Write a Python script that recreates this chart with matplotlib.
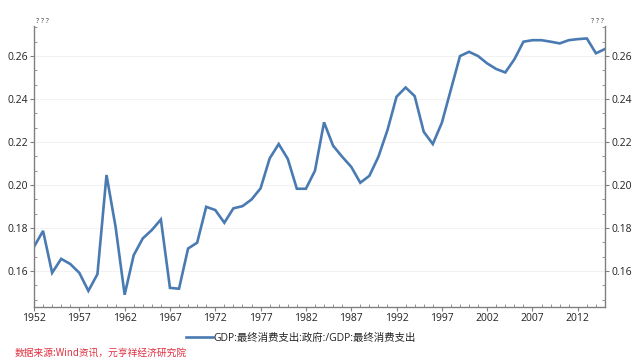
import matplotlib
matplotlib.use("Agg")
import matplotlib.pyplot as plt
from matplotlib.ticker import MultipleLocator, AutoMinorLocator, FuncFormatter, FixedLocator
import numpy as np

plt.rcParams['font.family'] = ['Open Sans', 'Noto Sans CJK SC', 'DejaVu Sans']

years = list(range(1952, 2016))
ratio = [0.1713, 0.1787, 0.1592, 0.1657, 0.1633, 0.1592, 0.1508, 0.1586, 0.2047, 0.1806,
         0.1490, 0.1674, 0.1752, 0.1791, 0.1840, 0.1522, 0.1518, 0.1705, 0.1732, 0.1899,
         0.1884, 0.1825, 0.1892, 0.1902, 0.1933, 0.1985, 0.2124, 0.2191, 0.2122, 0.1983,
         0.1983, 0.2067, 0.2292, 0.2183, 0.2132, 0.2085, 0.2011, 0.2043, 0.2132, 0.2256,
         0.2411, 0.2454, 0.2414, 0.2248, 0.2191, 0.2290, 0.2445, 0.2600, 0.2620, 0.2600,
         0.2566, 0.2540, 0.2524, 0.2585, 0.2667, 0.2674, 0.2674, 0.2667, 0.2659, 0.2674,
         0.2679, 0.2682, 0.2613, 0.2633]
x_ticks = list(range(1952, 2016, 5))
series_name = "GDP:最终消费支出:政府:/GDP:最终消费支出"
source_text = "数据来源:Wind资讯，元亨祥经济研究院"
unit_text = "? ? ?"

fig = plt.figure(figsize=(6.4, 3.61), dpi=100)
ax = fig.add_axes([34/640, 1-307/361, (605-34)/640, (307-26)/361])

line_color = '#4a7ab2'
ax.plot(years, ratio, color=line_color, lw=1.9, label=series_name, solid_joinstyle='miter')

ax.set_xlim(1952, 2015)
ax.set_ylim(0.1433, 0.274)

ax.xaxis.set_major_locator(FixedLocator(x_ticks))
ax.xaxis.set_minor_locator(MultipleLocator(1))
ax.yaxis.set_major_locator(MultipleLocator(0.02))
ax.yaxis.set_minor_locator(AutoMinorLocator(3))
ax.yaxis.set_major_formatter(FuncFormatter(lambda v, p: f"{v:.2f}"))

spine_c = '#808080'
for s in ['left', 'right', 'bottom']:
    ax.spines[s].set_color(spine_c)
    ax.spines[s].set_linewidth(1.0)
ax.spines['top'].set_visible(False)

ax.tick_params(axis='both', which='major', direction='out', length=3, color=spine_c,
               labelsize=7.5, labelcolor='#222222', pad=1.5)
ax.tick_params(axis='both', which='minor', direction='in', length=2.5, color=spine_c)
ax.tick_params(axis='y', which='both', left=True, right=True, labelleft=True, labelright=True)
ax.tick_params(axis='x', which='both', top=False)

ax.grid(axis='y', which='major', color='#f2f2f2', lw=0.8)
ax.set_axisbelow(True)

ax.text(0.003, 1.005, unit_text, transform=ax.transAxes, fontsize=5, color='#333333',
        ha='left', va='bottom')
ax.text(0.997, 1.005, unit_text, transform=ax.transAxes, fontsize=5, color='#333333',
        ha='right', va='bottom')

leg = fig.legend(loc='center', bbox_to_anchor=(0.47, 1-338/361), frameon=False,
                 fontsize=7.5, handlelength=2.6, handletextpad=0.1)
for t in leg.get_texts():
    t.set_color('#222222')

fig.text(15/640, 1-353/361, source_text, color='#e03040', fontsize=7, style='italic',
         ha='left', va='center', family=['Noto Sans CJK SC', 'DejaVu Sans'])

fig.savefig('out.png', dpi=100)
